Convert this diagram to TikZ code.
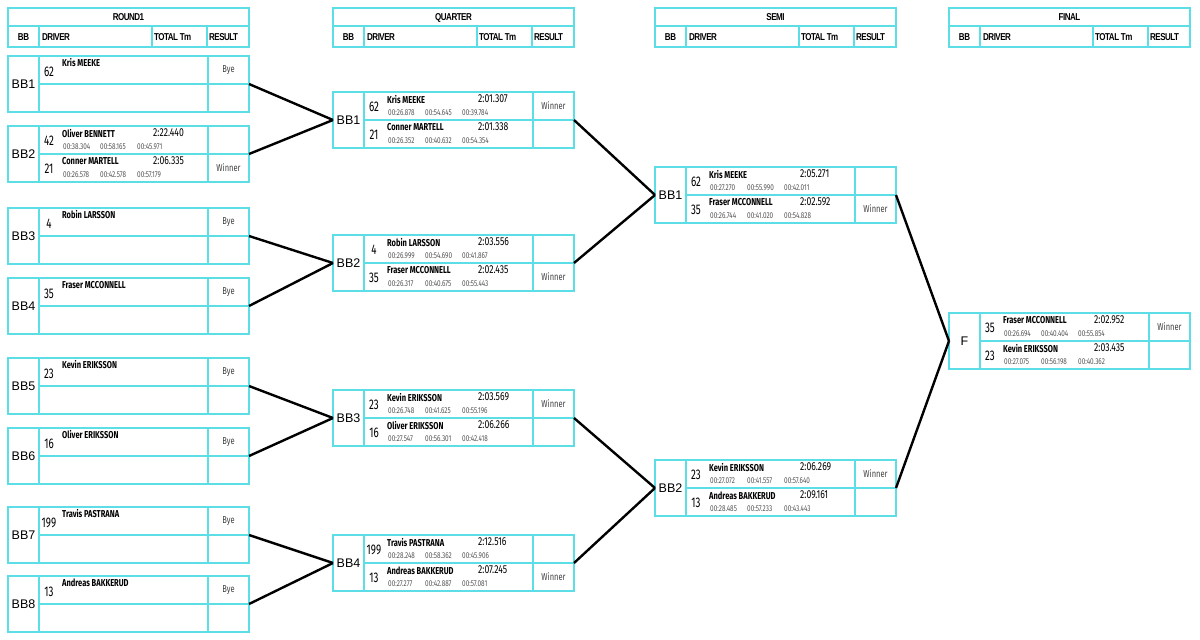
\documentclass[tikz,border=0pt]{standalone}
\usepackage{fontspec}
\setmainfont{Liberation Sans}
\newfontfamily\condff[FakeStretch=0.75]{Fira Sans}
\newfontfamily\numff[FakeStretch=0.7]{Fira Sans}
\newfontfamily\headff[FakeStretch=0.8,LetterSpace=-5]{Liberation Sans}
\definecolor{cyanline}{RGB}{92,222,230}
\definecolor{splitgray}{RGB}{85,85,85}
\tikzset{
 cell/.style={draw=cyanline, line width=1.5pt, inner sep=0pt, outer sep=0pt},
 gridline/.style={draw=cyanline, line width=1.5pt},
 bbl/.style={font=\fontsize{12.5}{14}\selectfont, inner sep=0pt},
 num/.style={font=\numff\fontsize{14}{15}\selectfont, inner sep=0pt},
 pname/.style={font=\condff\bfseries\fontsize{10}{11}\selectfont, anchor=west, inner sep=0pt},
 ptime/.style={font=\condff\fontsize{11.5}{12}\selectfont, anchor=west, inner sep=0pt},
 split/.style={font=\condff\fontsize{8.5}{9}\selectfont, text=splitgray, anchor=west, inner sep=0pt},
 res/.style={font=\condff\fontsize{10}{11}\selectfont, text=black!75, inner sep=0pt},
 hdr/.style={font=\headff\bfseries\fontsize{10}{11}\selectfont, inner sep=0pt},
 conn/.style={line width=2.4pt, black},
}
% column header: name, x0, title
\newcommand\colheader[3]{%
\begin{scope}[shift={(#2,8)}]
 \node[cell, anchor=north west, minimum width=241pt, minimum height=39pt] (#1) at (0,0) {};
 \draw[gridline] (0,18) -- (241,18);
 \draw[gridline] (31,18) -- (31,39) (144,18) -- (144,39) (199,18) -- (199,39);
 \node[hdr] (#1-t) at (120.5,9.5) {#3};
 \node[hdr] (#1-bb) at (15.5,29.5) {BB};
 \node[hdr,anchor=west] (#1-dr) at (34,29.5) {DRIVER};
 \node[hdr,anchor=west] (#1-tt) at (146,29.5) {TOTAL Tm};
 \node[hdr,anchor=west] (#1-rs) at (201,29.5) {RESULT};
\end{scope}}
% match box: name, x0, y0, label
\newcommand\matchbox[4]{%
\begin{scope}[shift={(#2,#3)}]
 \node[cell, anchor=north west, minimum width=241pt, minimum height=56pt] (#1) at (0,0) {};
 \draw[gridline] (31,0) -- (31,56) (200,0) -- (200,56) (31,28) -- (241,28);
 \node[bbl] (#1-l) at (15.5,28) {#4};
\end{scope}}
% full row: prefix, x0, top, num, name, time, s1, s2, s3
\newcommand\prow[9]{%
\begin{scope}[shift={(#2,#3)}]
 \node[num] (#1-n) at (41,14.5) {#4};
 \node[pname] (#1-p) at (54,7.5) {#5};
 \node[ptime] (#1-t) at (145,7) {#6};
 \node[split] (#1-a) at (55,20.5) {#7};
 \node[split] (#1-b) at (92,20.5) {#8};
 \node[split] (#1-c) at (129,20.5) {#9};
\end{scope}}
% bye row: prefix, x0, top, num, name
\newcommand\byerow[5]{%
\begin{scope}[shift={(#2,#3)}]
 \node[num] (#1-n) at (41,15.5) {#4};
 \node[pname] (#1-p) at (54,7) {#5};
 \node[res] (#1-r) at (220.5,14.5) {Bye};
\end{scope}}
% result: prefix, x0, top, text
\newcommand\resnode[4]{\node[res] (#1) at (#2+220.5,#3+14) {#4};}

\begin{document}
\begin{tikzpicture}[x=1pt,y=-1pt]
\useasboundingbox (0,0) rectangle (1200,640);
\fill[white] (0,0) rectangle (1200,640);

\colheader{h1}{8}{ROUND1}
\colheader{h2}{333}{QUARTER}
\colheader{h3}{655}{SEMI}
\colheader{h4}{949}{FINAL}

% ROUND 1
\matchbox{r1b1}{8}{56}{BB1}
\byerow{r1b1a}{8}{56}{62}{Kris MEEKE}
\matchbox{r1b2}{8}{126}{BB2}
\prow{r1b2a}{8}{126}{42}{Oliver BENNETT}{2:22.440}{00:38.304}{00:58.165}{00:45.971}
\prow{r1b2b}{8}{154}{21}{Conner MARTELL}{2:06.335}{00:26.578}{00:42.578}{00:57.179}
\resnode{r1b2r}{8}{154}{Winner}
\matchbox{r1b3}{8}{208}{BB3}
\byerow{r1b3a}{8}{208}{4}{Robin LARSSON}
\matchbox{r1b4}{8}{278}{BB4}
\byerow{r1b4a}{8}{278}{35}{Fraser MCCONNELL}
\matchbox{r1b5}{8}{358}{BB5}
\byerow{r1b5a}{8}{358}{23}{Kevin ERIKSSON}
\matchbox{r1b6}{8}{428}{BB6}
\byerow{r1b6a}{8}{428}{16}{Oliver ERIKSSON}
\matchbox{r1b7}{8}{507}{BB7}
\byerow{r1b7a}{8}{507}{199}{Travis PASTRANA}
\matchbox{r1b8}{8}{576}{BB8}
\byerow{r1b8a}{8}{576}{13}{Andreas BAKKERUD}

% QUARTER
\matchbox{q1}{333}{92}{BB1}
\prow{q1a}{333}{92}{62}{Kris MEEKE}{2:01.307}{00:26.878}{00:54.645}{00:39.784}
\resnode{q1r}{333}{92}{Winner}
\prow{q1b}{333}{120}{21}{Conner MARTELL}{2:01.338}{00:26.352}{00:40.632}{00:54.354}
\matchbox{q2}{333}{235}{BB2}
\prow{q2a}{333}{235}{4}{Robin LARSSON}{2:03.556}{00:26.999}{00:54.690}{00:41.867}
\prow{q2b}{333}{263}{35}{Fraser MCCONNELL}{2:02.435}{00:26.317}{00:40.675}{00:55.443}
\resnode{q2r}{333}{263}{Winner}
\matchbox{q3}{333}{390}{BB3}
\prow{q3a}{333}{390}{23}{Kevin ERIKSSON}{2:03.569}{00:26.748}{00:41.625}{00:55.196}
\resnode{q3r}{333}{390}{Winner}
\prow{q3b}{333}{418}{16}{Oliver ERIKSSON}{2:06.266}{00:27.547}{00:56.301}{00:42.418}
\matchbox{q4}{333}{535}{BB4}
\prow{q4a}{333}{535}{199}{Travis PASTRANA}{2:12.516}{00:28.248}{00:58.362}{00:45.906}
\prow{q4b}{333}{563}{13}{Andreas BAKKERUD}{2:07.245}{00:27.277}{00:42.887}{00:57.081}
\resnode{q4r}{333}{563}{Winner}

% SEMI
\matchbox{s1}{655}{167}{BB1}
\prow{s1a}{655}{167}{62}{Kris MEEKE}{2:05.271}{00:27.270}{00:55.990}{00:42.011}
\prow{s1b}{655}{195}{35}{Fraser MCCONNELL}{2:02.592}{00:26.744}{00:41.020}{00:54.828}
\resnode{s1r}{655}{195}{Winner}
\matchbox{s2}{655}{460}{BB2}
\prow{s2a}{655}{460}{23}{Kevin ERIKSSON}{2:06.269}{00:27.072}{00:41.557}{00:57.640}
\resnode{s2r}{655}{460}{Winner}
\prow{s2b}{655}{488}{13}{Andreas BAKKERUD}{2:09.161}{00:28.485}{00:57.233}{00:43.443}

% FINAL
\matchbox{f}{949}{313}{F}
\prow{fa}{949}{313}{35}{Fraser MCCONNELL}{2:02.952}{00:26.694}{00:40.404}{00:55.854}
\resnode{fr}{949}{313}{Winner}
\prow{fb}{949}{341}{23}{Kevin ERIKSSON}{2:03.435}{00:27.075}{00:56.198}{00:40.362}

% connectors
\draw[conn] (r1b1.east) -- (q1.west);
\draw[conn] (r1b2.east) -- (q1.west);
\draw[conn] (r1b3.east) -- (q2.west);
\draw[conn] (r1b4.east) -- (q2.west);
\draw[conn] (r1b5.east) -- (q3.west);
\draw[conn] (r1b6.east) -- (q3.west);
\draw[conn] (r1b7.east) -- (q4.west);
\draw[conn] (r1b8.east) -- (q4.west);
\draw[conn] (q1.east) -- (s1.west);
\draw[conn] (q2.east) -- (s1.west);
\draw[conn] (q3.east) -- (s2.west);
\draw[conn] (q4.east) -- (s2.west);
\draw[conn] (s1.east) -- (f.west);
\draw[conn] (s2.east) -- (f.west);
\end{tikzpicture}
\end{document}
